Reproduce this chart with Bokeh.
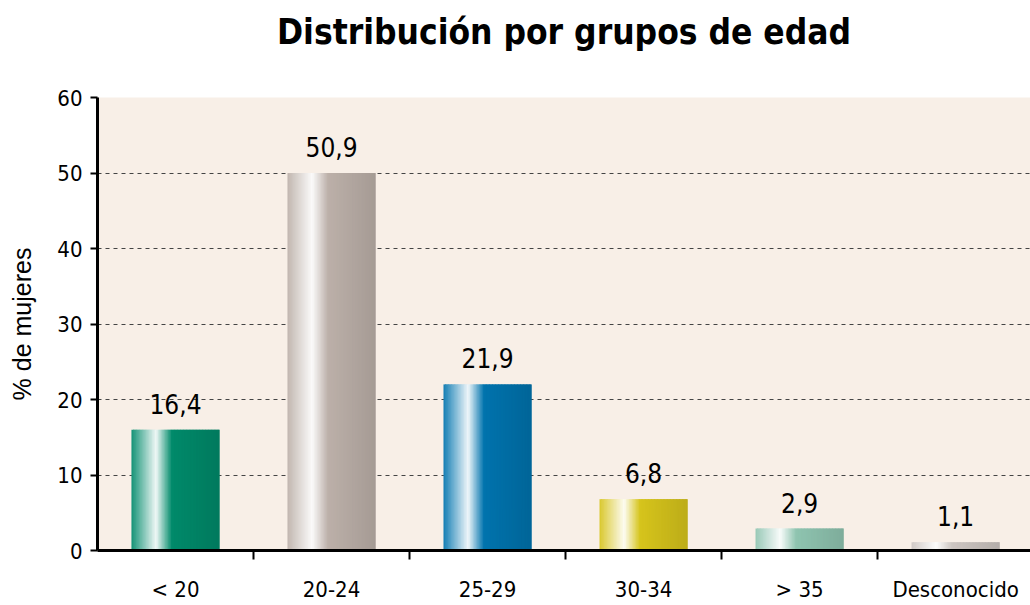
from bokeh.plotting import figure
from bokeh.models import FixedTicker, Range1d, ColumnDataSource, Title
from bokeh.core.properties import value
from bokeh.embed import file_html
from bokeh.resources import INLINE

# ---- data ----
categories = ["< 20", "20-24", "25-29", "30-34", "> 35", "Desconocido"]
bar_heights = [16.0, 50.0, 22.0, 6.8, 2.9, 1.1]
value_labels = ["16,4", "50,9", "21,9", "6,8", "2,9", "1,1"]
y_ticks = [0, 10, 20, 30, 40, 50, 60]
bar_colors = ["#008a6a", "#bcb0a9", "#0073ad", "#d6c41c", "#8fc4b0", "#cdc5c1"]

NARROW = "DejaVu Sans Condensed"

def hex2rgb(h):
    h = h.lstrip("#")
    return [int(h[i:i + 2], 16) for i in (0, 2, 4)]

def rgb2hex(c):
    return "#%02x%02x%02x" % tuple(max(0, min(255, int(round(v)))) for v in c)

def shade(base, t):
    r = hex2rgb(base)
    peak, back = 0.28, 0.46
    if t < peak:
        m = 0.08 + 0.86 * (t / peak)
        return rgb2hex([v + (255 - v) * m for v in r])
    if t < back:
        m = 0.94 * (1 - (t - peak) / (back - peak))
        return rgb2hex([v + (255 - v) * m for v in r])
    f = 1.0 - 0.12 * (t - back) / (1 - back)
    return rgb2hex([v * f for v in r])

centers = [i + 0.5 for i in range(len(categories))]
bar_w = 0.565
nstrips = 60
L, R, T, C = [], [], [], []
for cx, h, col in zip(centers, bar_heights, bar_colors):
    x0 = cx - bar_w / 2
    sw = bar_w / nstrips
    for k in range(nstrips):
        t = (k + 0.5) / nstrips
        L.append(x0 + sw * k)
        R.append(x0 + sw * (k + 1) + (sw * 0.8 if k < nstrips - 1 else 0))
        T.append(h)
        C.append(shade(col, t))
src = ColumnDataSource(dict(left=L, right=R, top=T, color=C))

p = figure(width=1030, height=605, output_backend="svg", toolbar_location=None,
           x_range=Range1d(0, 5.98), y_range=Range1d(0, 60),
           min_border_left=97, min_border_right=0, min_border_top=97, min_border_bottom=55)
p.background_fill_color = "#f8efe7"
p.border_fill_color = "white"
p.outline_line_color = None

# spacer (nearest the frame) pushes the real title upward
spacer = Title(text=" ", text_font_size="1px", standoff=38, text_color="white")
p.add_layout(spacer, "above")
t = Title(text="Distribución por grupos de edad", align="center", vertical_align="bottom",
          text_font=NARROW, text_font_size="35px", text_font_style="bold",
          text_color="black", standoff=10)
p.add_layout(t, "above")

p.quad(left="left", right="right", bottom=0, top="top", source=src,
       fill_color="color", line_color=None)

p.text(x=centers, y=bar_heights, text=value_labels, text_align="center",
       text_baseline="bottom", y_offset=-16, text_font=value(NARROW),
       text_font_size="26px", text_color="black")

# grid
p.xgrid.visible = False
p.ygrid.ticker = FixedTicker(ticks=y_ticks)
p.ygrid.grid_line_color = "#444444"
p.ygrid.grid_line_dash = "4 4"
p.ygrid.grid_line_width = 1

# y axis
ya = p.yaxis[0]
ya.ticker = FixedTicker(ticks=y_ticks)
ya.axis_line_width = 3
ya.axis_line_color = "black"
ya.major_tick_out = 7
ya.major_tick_in = 0
ya.major_tick_line_width = 2
ya.minor_tick_line_color = None
ya.major_label_text_font = NARROW
ya.major_label_text_font_size = "22px"
ya.major_label_text_color = "black"
ya.major_label_standoff = 8
ya.axis_label = "% de mujeres"
ya.axis_label_text_font = "Liberation Sans"
ya.axis_label_text_font_size = "25px"
ya.axis_label_text_font_style = "normal"
ya.axis_label_text_color = "black"
ya.axis_label_standoff = 18

# x axis
xa = p.xaxis[0]
xa.ticker = FixedTicker(ticks=centers, minor_ticks=[1, 2, 3, 4, 5])
xa.major_label_overrides = {c: lab for c, lab in zip(centers, categories)}
xa.axis_line_width = 3
xa.axis_line_color = "black"
xa.major_tick_line_color = None
xa.major_tick_out = 0
xa.major_tick_in = 0
xa.minor_tick_line_color = "black"
xa.minor_tick_line_width = 2
xa.minor_tick_out = 9
xa.minor_tick_in = 0
xa.major_label_text_font = NARROW
xa.major_label_text_font_size = "22px"
xa.major_label_text_color = "black"
xa.major_label_standoff = 17

open("out.html", "w").write(file_html(p, INLINE))
